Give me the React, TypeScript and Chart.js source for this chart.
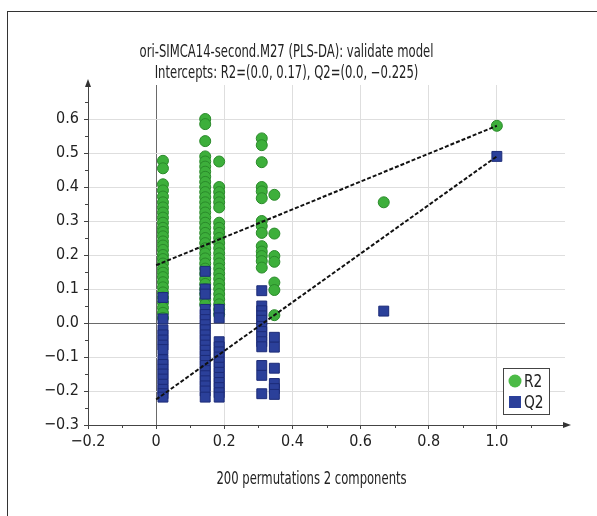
import React, { useEffect, useRef } from 'react';
import { Chart, registerables } from 'chart.js';

Chart.register(...registerables);

const TITLE_LINES = [
  'ori-SIMCA14-second.M27 (PLS-DA): validate model',
  'Intercepts: R2=(0.0, 0.17), Q2=(0.0, \u22120.225)',
];
const X_TITLE = '200 permutations 2 components';
const SERIES_NAMES = ['R2', 'Q2'];

// x position (correlation) of each column of permuted models
const COLUMN_X = [0.02, 0.144, 0.185, 0.31, 0.347, 0.668, 1.0];

const r2Col1 = [0.477, 0.455, 0.408, 0.39, 0.372, 0.355, 0.34, 0.325, 0.31, 0.295, 0.28, 0.268, 0.255, 0.24, 0.228, 0.215, 0.2, 0.188, 0.175, 0.16, 0.148, 0.135, 0.12, 0.105, 0.09, 0.075, 0.06, 0.045, 0.03, 0.015];
const r2Col2 = [0.6, 0.585, 0.535, 0.49, 0.475, 0.46, 0.445, 0.43, 0.415, 0.4, 0.385, 0.37, 0.355, 0.34, 0.325, 0.31, 0.295, 0.28, 0.265, 0.25, 0.235, 0.22, 0.205, 0.19, 0.175, 0.16, 0.145, 0.13, 0.115, 0.1, 0.085, 0.07, 0.055];
const r2Col3 = [0.475, 0.4, 0.385, 0.37, 0.355, 0.34, 0.295, 0.28, 0.265, 0.25, 0.235, 0.22, 0.205, 0.19, 0.175, 0.16, 0.145, 0.13, 0.115, 0.1, 0.085, 0.07, 0.055, 0.04, 0.025];
const r2Col4 = [0.543, 0.523, 0.473, 0.4, 0.387, 0.367, 0.3, 0.285, 0.265, 0.226, 0.21, 0.197, 0.182, 0.163];
const r2Col5 = [0.377, 0.263, 0.197, 0.18, 0.119, 0.097, 0.023];
const r2Col6 = [0.355];
const r2Col7 = [0.58];

const q2Col1 = [0.075, 0.012, -0.02, -0.035, -0.05, -0.065, -0.078, -0.108, -0.122, -0.136, -0.15, -0.165, -0.18, -0.195, -0.208, -0.218];
const q2Col2 = [0.152, 0.1, 0.085, 0.04, 0.025, 0.01, -0.005, -0.02, -0.035, -0.05, -0.065, -0.08, -0.095, -0.11, -0.125, -0.14, -0.155, -0.17, -0.185, -0.2, -0.218];
const q2Col3 = [0.04, 0.015, -0.055, -0.07, -0.085, -0.1, -0.115, -0.13, -0.145, -0.16, -0.175, -0.19, -0.205, -0.218];
const q2Col4 = [0.095, 0.05, 0.036, 0.021, 0.008, -0.01, -0.025, -0.04, -0.055, -0.07, -0.125, -0.154, -0.208];
const q2Col5 = [-0.042, -0.071, -0.133, -0.178, -0.193, -0.21];
const q2Col6 = [0.035];
const q2Col7 = [0.49];

const R2_COLUMNS = [r2Col1, r2Col2, r2Col3, r2Col4, r2Col5, r2Col6, r2Col7];
const Q2_COLUMNS = [q2Col1, q2Col2, q2Col3, q2Col4, q2Col5, q2Col6, q2Col7];

// regression lines: value at x = 0 (intercept) and at x = 1
const LINE_X = [0, 1.0];
const R2_LINE = [0.17, 0.58];
const Q2_LINE = [-0.225, 0.49];

const X_MIN = -0.2, X_MAX = 1.2, X_STEP = 0.2;
const Y_MIN = -0.3, Y_MAX = 0.7, Y_STEP = 0.1;

const FONT = "'Liberation Sans Narrow', 'DejaVu Sans Condensed', 'Open Sans', sans-serif";
const GREEN = '#3daf3b';
const GREEN_BORDER = '#2a8a2a';
const BLUE = '#2b409a';
const BLUE_BORDER = '#1c2b78';

const toPoints = (cols: number[][]) =>
  cols.flatMap((col, i) => col.map((y) => ({ x: COLUMN_X[i], y })));

const fmt = (v: number, zero: string) => {
  if (Math.abs(v) < 1e-9) return zero;
  return v.toFixed(1).replace('-', '\u2212');
};

const near = (a: number, b: number) => Math.abs(a - b) < 1e-6;

const condensedText = (ctx: any, text: string, x: number, y: number, sx: number) => {
  ctx.save();
  ctx.translate(x, y);
  ctx.scale(sx, 1);
  ctx.fillText(text, 0, 0);
  ctx.restore();
};

const decorPlugin = {
  id: 'decor',
  afterDraw(chart: any) {
    const { ctx, chartArea, scales } = chart;
    const xs = scales.x, ys = scales.y;
    const { left, right, top, bottom } = chartArea;
    ctx.save();
    ctx.strokeStyle = '#444';
    ctx.fillStyle = '#333';
    ctx.lineWidth = 1;
    // minor ticks
    ctx.beginPath();
    for (let v = X_MIN + 0.1; v < X_MAX; v += 0.2) {
      const px = Math.round(xs.getPixelForValue(v)) + 0.5;
      ctx.moveTo(px, bottom);
      ctx.lineTo(px, bottom + 3);
    }
    for (let v = Y_MIN + 0.05; v < Y_MAX; v += 0.1) {
      const py = Math.round(ys.getPixelForValue(v)) + 0.5;
      ctx.moveTo(left - 3, py);
      ctx.lineTo(left, py);
    }
    ctx.stroke();
    // arrows
    ctx.beginPath();
    ctx.moveTo(left, top - 6);
    ctx.lineTo(left - 3, top + 2);
    ctx.lineTo(left + 3, top + 2);
    ctx.closePath();
    ctx.fill();
    ctx.beginPath();
    ctx.moveTo(right + 6, bottom);
    ctx.lineTo(right - 2, bottom - 3);
    ctx.lineTo(right - 2, bottom + 3);
    ctx.closePath();
    ctx.fill();

    // titles
    const cx = (left + right) / 2;
    ctx.fillStyle = '#222';
    ctx.textAlign = 'center';
    ctx.textBaseline = 'middle';
    ctx.font = `17px ${FONT}`;
    condensedText(ctx, TITLE_LINES[0], cx - 40, top - 32, 0.76);
    condensedText(ctx, TITLE_LINES[1], cx - 40, top - 11, 0.76);
    condensedText(ctx, X_TITLE, cx - 15, bottom + 55, 0.76);

    // legend
    const lx = right - 62, ly = bottom - 57, lw = 46, lh = 46;
    ctx.fillStyle = '#fff';
    ctx.fillRect(lx, ly, lw, lh);
    ctx.strokeStyle = '#444';
    ctx.strokeRect(lx + 0.5, ly + 0.5, lw, lh);
    ctx.beginPath();
    ctx.arc(lx + 12, ly + 13, 6.5, 0, Math.PI * 2);
    ctx.fillStyle = '#4cbb47';
    ctx.fill();
    ctx.fillStyle = BLUE;
    ctx.fillRect(lx + 6, ly + 28, 12, 12);
    ctx.fillStyle = '#222';
    ctx.textAlign = 'left';
    ctx.font = `18px ${FONT}`;
    condensedText(ctx, SERIES_NAMES[0], lx + 21, ly + 14, 0.85);
    condensedText(ctx, SERIES_NAMES[1], lx + 21, ly + 35, 0.85);
    ctx.restore();
  },
};

export default function App() {
  const ref = useRef<HTMLCanvasElement>(null);
  useEffect(() => {
    if (!ref.current) return;
    const chart = new Chart(ref.current, {
      type: 'scatter',
      data: {
        datasets: [
          {
            label: 'R2 line',
            type: 'line',
            data: LINE_X.map((x, i) => ({ x, y: R2_LINE[i] })),
            borderColor: '#111',
            borderWidth: 2,
            borderDash: [4, 2],
            pointRadius: 0,
            fill: false,
            order: 0,
          } as any,
          {
            label: 'Q2 line',
            type: 'line',
            data: LINE_X.map((x, i) => ({ x, y: Q2_LINE[i] })),
            borderColor: '#111',
            borderWidth: 2,
            borderDash: [4, 2],
            pointRadius: 0,
            fill: false,
            order: 0,
          } as any,
          {
            label: SERIES_NAMES[1],
            data: toPoints(Q2_COLUMNS),
            pointStyle: 'rect',
            pointRadius: 7,
            backgroundColor: BLUE,
            borderColor: BLUE_BORDER,
            borderWidth: 1,
            order: 1,
          },
          {
            label: SERIES_NAMES[0],
            data: toPoints(R2_COLUMNS),
            pointStyle: 'circle',
            pointRadius: 5.5,
            backgroundColor: GREEN,
            borderColor: GREEN_BORDER,
            borderWidth: 1,
            order: 2,
          },
        ],
      },
      options: {
        animation: false,
        responsive: false,
        events: [],
        layout: { padding: { left: 8, right: 32, top: 85, bottom: 0 } },
        plugins: { legend: { display: false }, tooltip: { enabled: false }, title: { display: false } },
        scales: {
          x: {
            type: 'linear',
            min: X_MIN,
            max: X_MAX,
            afterFit: (s: any) => { s.height = 91; },
            ticks: {
              stepSize: X_STEP,
              padding: 3,
              color: '#222',
              font: { family: FONT, size: 16 },
              callback: (v: any) => (near(v, X_MAX) ? '' : fmt(Number(v), '0')),
            },
            grid: {
              color: (c: any) => {
                const v = c.tick?.value;
                if (v === undefined) return '#ddd';
                if (near(v, 0)) return '#6a6a6a';
                if (near(v, X_MAX) || near(v, X_MIN)) return 'rgba(0,0,0,0)';
                return '#dedede';
              },
              tickColor: (c: any) => (near(c.tick?.value, X_MAX) ? 'rgba(0,0,0,0)' : '#444'),
              tickLength: 4,
            },
            border: { color: '#444', width: 1 },
          },
          y: {
            type: 'linear',
            min: Y_MIN,
            max: Y_MAX,
            afterFit: (s: any) => { s.width = 80; },
            ticks: {
              stepSize: Y_STEP,
              padding: 5,
              color: '#222',
              font: { family: FONT, size: 16 },
              callback: (v: any) => (near(v, Y_MAX) ? '' : fmt(Number(v), '0.0')),
            },
            grid: {
              color: (c: any) => {
                const v = c.tick?.value;
                if (v === undefined) return '#ddd';
                if (near(v, 0)) return '#6a6a6a';
                if (near(v, Y_MAX) || near(v, Y_MIN)) return 'rgba(0,0,0,0)';
                return '#dedede';
              },
              tickColor: (c: any) => (near(c.tick?.value, Y_MAX) ? 'rgba(0,0,0,0)' : '#444'),
              tickLength: 4,
            },
            border: { color: '#444', width: 1 },
          },
        },
      },
      plugins: [decorPlugin],
    });
    return () => chart.destroy();
  }, []);

  return (
    <div style={{ position: 'absolute', left: 0, top: 0, width: 597, height: 516, background: '#fff', overflow: 'hidden' }}>
      <div
        style={{
          position: 'absolute',
          left: 7,
          top: 11,
          width: 600,
          height: 520,
          borderTop: '1px solid #333',
          borderLeft: '1px solid #333',
        }}
      />
      <canvas ref={ref} width={597} height={516} style={{ position: 'absolute', left: 0, top: 0, width: 597, height: 516 }} />
    </div>
  );
}
